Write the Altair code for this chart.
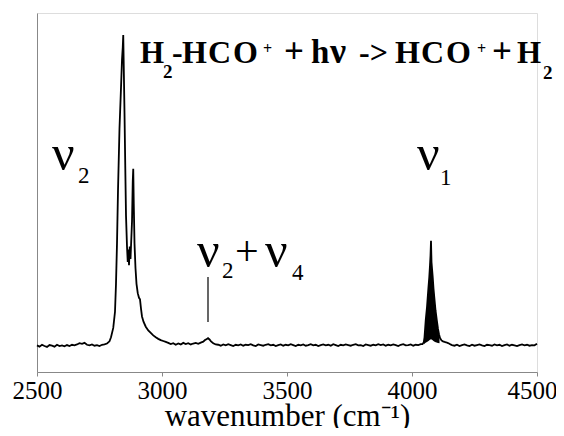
import altair as alt
import pandas as pd

# ---------------- spectrum values (wavenumber, normalised intensity %) ----------------
base1_wn = list(range(2500, 2790, 10))
base1_int = [0.2, -0.2, 0.4, 0.0, -0.3, 0.3, 0.1, -0.2, 0.4, 0.0,
             0.2, -0.1, 0.3, 0.0, 0.4, 0.2, 0.5, 0.9, 0.7, 1.0,
             0.4, 0.2, 0.5, 0.1, 0.3, 0.0, 0.4, 0.5, 0.8]

nu2_wn = [2790, 2796, 2805, 2812, 2816, 2820, 2824, 2830, 2836, 2840, 2843, 2845,
          2847, 2850, 2853, 2856, 2860, 2863, 2866, 2868, 2871, 2874, 2877, 2880,
          2883, 2885, 2887, 2890, 2894, 2898, 2903, 2908, 2912, 2916, 2920, 2926,
          2935, 2945, 2955, 2965, 2975, 2985, 2995, 3005, 3015, 3025]
nu2_int = [1.5, 2.8, 5.8, 11, 20, 33, 50, 70, 83, 92, 96, 100,
           90, 75, 58, 42, 32, 27, 31, 26, 32, 28, 34, 40,
           53, 57, 46, 33, 25, 20, 17, 15.5, 15, 12, 9.5, 7.8,
           6.2, 5.0, 4.2, 3.4, 2.8, 2.3, 1.9, 1.6, 1.3, 1.0]

base2_wn = list(range(3035, 3160, 10))
base2_int = [0.6, 0.9, 0.4, 0.8, 0.5, 1.0, 0.6, 0.9, 0.5, 0.8, 1.0, 0.7, 1.1]

comb_wn = [3165, 3172, 3178, 3184, 3190, 3196, 3205, 3215]
comb_int = [1.4, 1.9, 2.2, 2.5, 2.1, 1.5, 0.9, 0.5]

base3_wn = list(range(3225, 4040, 10))
base3_int = [0.4, 0.1, 0.5, 0.2, 0.6, 0.3, 0.0, 0.4, 0.2, 0.5,
             0.1, 0.4, 0.3, 0.6, 0.2, 0.0, 0.5, 0.3, 0.1, 0.4,
             0.6, 0.2, 0.4, 0.0, 0.3, 0.5, 0.1, 0.4, 0.2, 0.6,
             0.3, 0.0, 0.4, 0.2, 0.5, 0.1, 0.3, 0.6, 0.2, 0.4,
             0.0, 0.3, 0.5, 0.2, 0.4, 0.1, 0.6, 0.3, 0.0, 0.4,
             0.2, 0.5, 0.3, 0.1, 0.4, 0.6, 0.2, 0.3, 0.0, 0.5,
             0.3, 0.1, 0.4, 0.2, 0.6, 0.3, 0.5, 0.1, 0.4, 0.2,
             0.5, 0.3, 0.0, 0.4, 0.6, 0.2, 0.3, 0.5, 0.1, 0.4,
             0.3, 0.6]

nu1_wn = [4042, 4047, 4050, 4055, 4060, 4063, 4066, 4069, 4072, 4074, 4076, 4078,
          4080, 4083, 4086, 4089, 4094, 4099, 4104, 4108, 4112, 4118, 4124, 4130,
          4136, 4142, 4148, 4154, 4160]
nu1_int = [0.6, 1.2, 2.8, 8.4, 12.5, 15.8, 19, 22, 26, 29, 33.8, 27,
           25, 22, 18.5, 15.8, 11.5, 8.4, 5.5, 3.8, 2.6, 1.8, 1.5, 1.3,
           1.2, 1.0, 0.8, 0.5, 0.3]

base4_wn = list(range(4170, 4510, 10))
base4_int = [0.1, 0.4, 0.0, 0.3, 0.5, 0.2, 0.0, 0.4, 0.1, 0.3,
             0.5, 0.2, 0.0, 0.4, 0.3, 0.1, 0.5, 0.2, 0.4, 0.0,
             0.3, 0.5, 0.1, 0.4, 0.2, 0.0, 0.3, 0.5, 0.2, 0.4,
             0.1, 0.3, 0.2, 0.7]

# dense (filled-looking) part of the nu1 band: upper / lower envelope
fill_wn = [4048, 4052, 4056, 4060, 4066, 4072, 4076, 4080, 4086, 4092, 4098, 4104, 4110]
fill_hi = [1.5, 4.0, 9.0, 12.5, 19, 26, 30, 25, 18.5, 13.5, 9, 5.5, 3.0]
fill_lo = [0.6, 0.9, 1.1, 1.3, 1.6, 2.0, 2.2, 2.0, 1.6, 1.3, 1.1, 1.0, 0.9]

# nu2+nu4 marker line
marker_wn = [3184]
marker_lo = [7.7]
marker_hi = [22.2]

# band labels (text, wavenumber of left edge, intensity of baseline, font size)
lab_text = ["ν", "2", "ν", "2", "+", "ν", "4", "ν", "1"]
lab_wn = [2560, 2664, 3140, 3240, 3292, 3412, 3520, 4020, 4112]
lab_int = [56.6, 52.4, 25.4, 21.9, 26.0, 25.4, 21.2, 56.6, 51.8]
lab_size = [50, 23, 50, 23, 42, 50, 23, 50, 23]

# reaction title pieces:  H2-HCO+ + hν -> HCO+ + H2
tit_text = ["H", "2", "-", "H", "C", "O", "+", "+", "h", "ν", "->",
            "H", "C", "O", "+", "+", "H", "2"]
tit_wn = [2912, 3004, 3040, 3080, 3184, 3284, 3404, 3488, 3596, 3672, 3788,
          3932, 4036, 4136, 4260, 4320, 4420, 4524]
tit_int = [91.0, 86.3, 91.0, 91.0, 91.0, 91.0, 93.9, 91.0, 91.0, 91.0, 91.0,
           91.0, 91.0, 91.0, 93.9, 91.0, 91.0, 85.8]
tit_size = [31, 19, 32, 32, 32, 32, 16, 35, 33, 36, 32,
            32, 32, 32, 16, 35, 31, 19]

x_ticks = [2500, 3000, 3500, 4000, 4500]

# ---------------- build tables ----------------
wn_all = base1_wn + nu2_wn + base2_wn + comb_wn + base3_wn + nu1_wn + base4_wn
int_all = base1_int + nu2_int + base2_int + comb_int + base3_int + nu1_int + base4_int
spec = pd.DataFrame({"wn": wn_all, "I": int_all})
fill = pd.DataFrame({"wn": fill_wn, "I": fill_hi, "I2": fill_lo})
marker = pd.DataFrame({"wn": marker_wn, "I": marker_lo, "I2": marker_hi})
labels = pd.DataFrame({"t": lab_text, "wn": lab_wn, "I": lab_int, "s": lab_size})
title = pd.DataFrame({"t": tit_text, "wn": tit_wn, "I": tit_int, "s": tit_size})

FONT = "Liberation Serif"
x_scale = alt.Scale(domain=[2500, 4500], nice=False, zero=False)
y_scale = alt.Scale(domain=[-8.36, 107.07], nice=False, zero=False)

x_enc = alt.X("wn:Q", scale=x_scale,
              axis=alt.Axis(values=x_ticks, format="d", title="wavenumber (cm⁻¹)",
                            grid=False, tickSize=4, labelPadding=2,
                            labelOffset=alt.condition("datum.value == 4500", alt.value(-5), alt.value(0)),
                            titleBaseline="alphabetic", titleY=53,
                            labelFont=FONT, labelFontSize=25, titleFont=FONT,
                            titleFontSize=31, titleFontWeight="normal",
                            labelFlush=False))
y_enc = alt.Y("I:Q", scale=y_scale,
              axis=alt.Axis(labels=False, ticks=False, title=None, grid=False, domain=True))

line = alt.Chart(spec).mark_line(color="black", strokeWidth=1.8).encode(x=x_enc, y=y_enc)
band = alt.Chart(fill).mark_area(color="black").encode(x=x_enc, y=y_enc, y2="I2:Q")
rule = alt.Chart(marker).mark_rule(color="black", strokeWidth=1.2).encode(x=x_enc, y=y_enc, y2="I2:Q")
lab = alt.Chart(labels).mark_text(align="left", baseline="alphabetic", font=FONT,
                                  color="black").encode(
    x=x_enc, y=y_enc, text="t:N", size=alt.Size("s:Q", scale=None, legend=None))
tit = alt.Chart(title).mark_text(align="left", baseline="alphabetic", font=FONT,
                                 fontWeight="bold", color="black").encode(
    x=x_enc, y=y_enc, text="t:N", size=alt.Size("s:Q", scale=None, legend=None))

chart = alt.layer(line, band, rule, lab, tit).properties(
    width=500, height=359,
    autosize=alt.AutoSizeParams(type="none"),
    padding={"left": 29, "top": 5, "right": 19, "bottom": 56},
).configure_view(stroke=None).configure_axis(
    domainColor="black", tickColor="black", labelColor="black", titleColor="black",
    domainWidth=1
).configure(background="white")

chart.save("out.html", embed_options={"renderer": "svg", "actions": False})
